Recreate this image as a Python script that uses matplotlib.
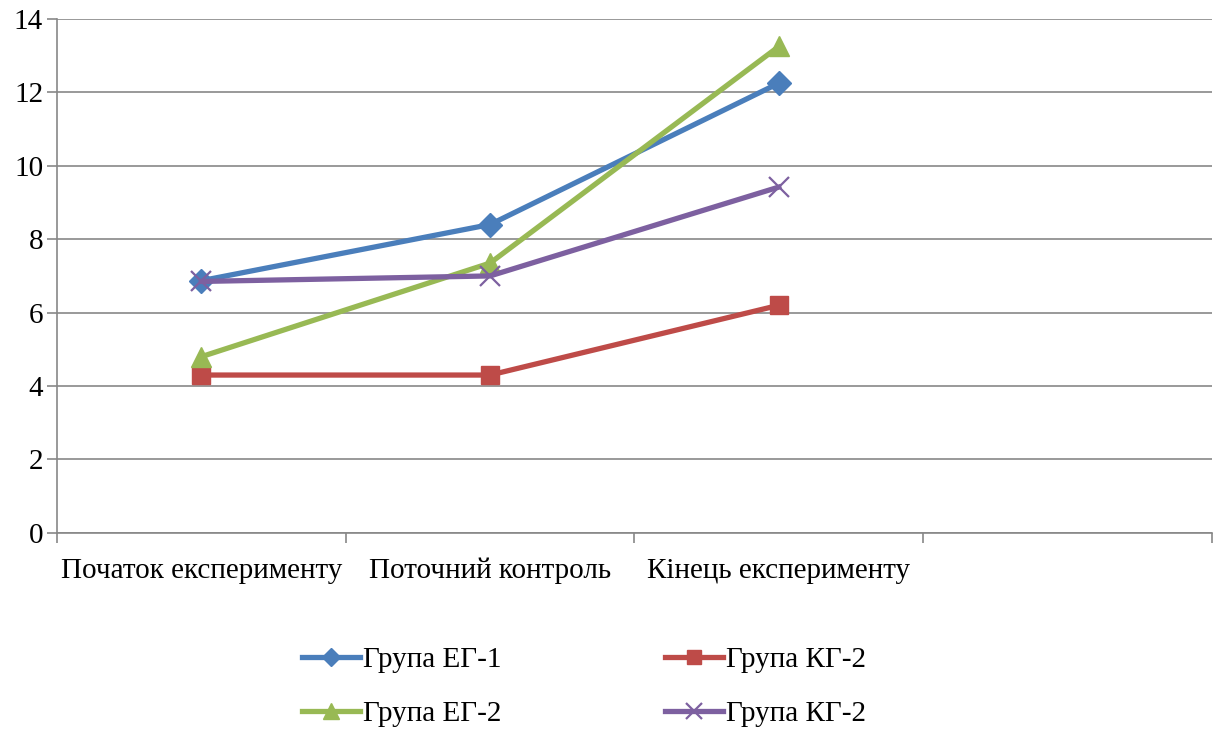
import matplotlib.pyplot as plt
from matplotlib.ticker import FixedLocator, NullFormatter

plt.rcParams['font.family'] = ['Liberation Serif', 'DejaVu Serif']

categories = ["Початок експерименту", "Поточний контроль", "Кінець експерименту", ""]
eg1 = [6.87, 8.4, 12.25]
kg2 = [4.3, 4.3, 6.2]
eg2 = [4.8, 7.35, 13.25]
kg2b = [6.85, 7.0, 9.42]
names = ["Група ЕГ-1", "Група КГ-2", "Група ЕГ-2", "Група КГ-2"]

grid_c = "#878787"

fig = plt.figure(figsize=(12.17, 7.29), dpi=100)
ax = fig.add_axes([0.0468, 0.269, 0.949, 0.705])

x = list(range(len(eg1)))
lw = 3.8
l1, = ax.plot(x, eg1, color="#4A7EBB", lw=lw, marker="D", ms=12, label=names[0])
l2, = ax.plot(x, kg2, color="#BE4B48", lw=lw, marker="s", ms=13, label=names[1])
l3, = ax.plot(x, eg2, color="#98B954", lw=lw, marker="^", ms=14, label=names[2])
l4, = ax.plot(x, kg2b, color="#7D60A0", lw=lw, marker="x", ms=14, mew=1.6, label=names[3])

ax.set_xlim(-0.5, len(categories) - 0.5)
ax.set_ylim(0, 14)
ax.set_yticks(range(0, 15, 2))
ax.yaxis.grid(True, color=grid_c, lw=1.2)
ax.set_axisbelow(True)

# category labels sit between the boundary ticks
ax.xaxis.set_major_locator(FixedLocator([i - 0.5 for i in range(len(categories) + 1)]))
ax.xaxis.set_major_formatter(NullFormatter())
ax.xaxis.set_minor_locator(FixedLocator(range(len(categories))))
ax.set_xticklabels(categories, minor=True)
ax.tick_params(axis="x", which="minor", length=0, pad=18, labelsize=21)
ax.tick_params(axis="x", which="major", length=7, color=grid_c, width=1.2)
ax.tick_params(axis="y", length=7, color=grid_c, width=1.2, labelsize=21, pad=3)

for s in ["top", "right"]:
    ax.spines[s].set_visible(False)
for s in ["left", "bottom"]:
    ax.spines[s].set_color(grid_c)
    ax.spines[s].set_linewidth(1.2)

# legend fills column by column, so order handles for rows ЕГ-1/КГ-2, ЕГ-2/КГ-2
fig.legend(handles=[l1, l3, l2, l4], loc="center", bbox_to_anchor=(0.48, 0.058),
           ncol=2, frameon=False, fontsize=21, handlelength=2.0, markerscale=0.8,
           handletextpad=0.1, columnspacing=5.6, labelspacing=0.95)

fig.savefig("out.png", dpi=100)
